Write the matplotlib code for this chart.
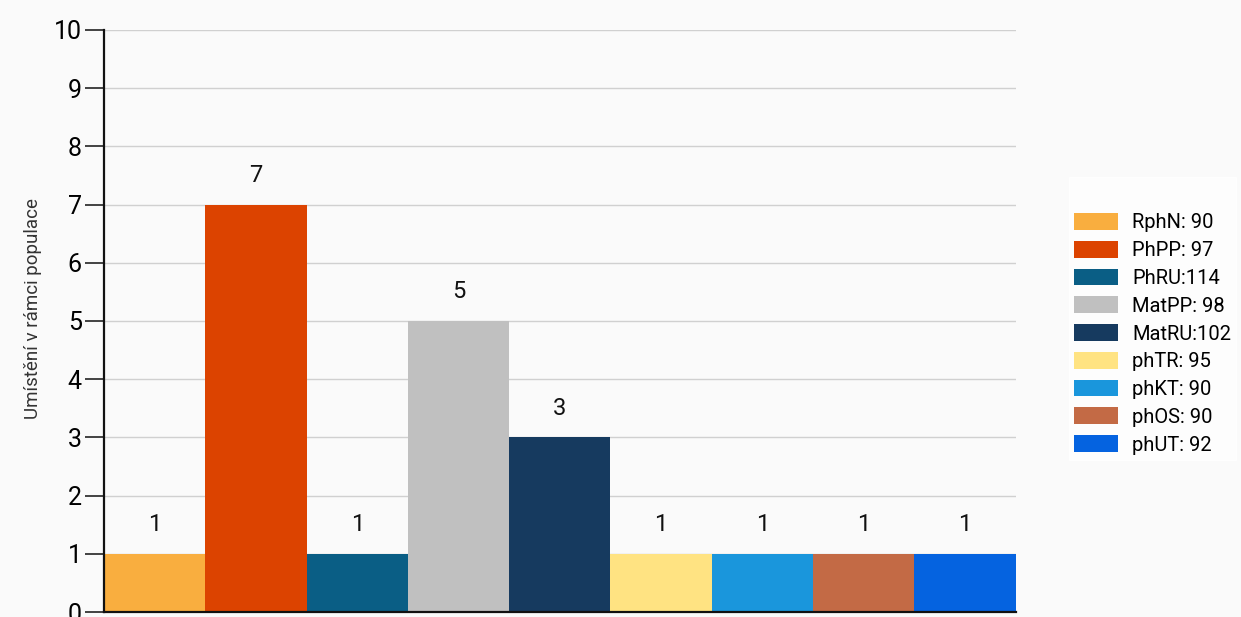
import numpy as np
import matplotlib.pyplot as plt
from matplotlib.patches import Patch

plt.rcParams['font.family'] = ['Roboto', 'DejaVu Sans']

# Data
names = ['RphN', 'PhPP', 'PhRU', 'MatPP', 'MatRU', 'phTR', 'phKT', 'phOS', 'phUT']
scores = ['90', '97', '114', '98', '102', '95', '90', '90', '92']
placement = [1, 7, 1, 5, 3, 1, 1, 1, 1]
colors = ['#F9AE3F', '#DC4300', '#0A5E85', '#C0C0C0', '#163A5F',
          '#FFE382', '#1A96DC', '#C36A45', '#0563E0']

legend_labels = []
for n, s in zip(names, scores):
    sep = ':' if len(s) == 3 else ': '
    legend_labels.append(n + sep + s)

bg = '#fafafa'
fig = plt.figure(figsize=(12.41, 6.17), dpi=100, facecolor=bg)
ax = fig.add_axes([0.0838, 0.0081, 0.7345, 0.9433], facecolor=bg)

x = np.arange(len(names))
ax.bar(x, placement, width=1.0, color=colors, zorder=2)
for xi, v in zip(x, placement):
    ax.text(xi, v + 0.5, str(v), ha='center', va='center', fontsize=17, color='#111111')

ax.set_xlim(-0.5, len(names) - 0.5)
ax.set_ylim(0, 10)
ax.set_yticks(range(0, 11))
ax.tick_params(axis='y', length=14, width=1.2, labelsize=18, pad=2, color='#222222')
ax.tick_params(axis='x', bottom=False, labelbottom=False)
ax.yaxis.grid(True, color='#d0d0d0', lw=1, zorder=0)
for s in ['top', 'right']:
    ax.spines[s].set_visible(False)
for s in ['left', 'bottom']:
    ax.spines[s].set_linewidth(1.6)
    ax.spines[s].set_color('#111111')
ax.set_ylabel('Umístění v rámci populace', fontsize=13.5, color='#333333')
ax.yaxis.set_label_coords(-0.068, 0.522)

handles = [Patch(facecolor=c) for c in colors]
leg = fig.legend(handles, legend_labels, loc='upper left', bbox_to_anchor=(0.853, 0.73),
                 frameon=True, fontsize=14.5, handlelength=2.2, handleheight=0.9,
                 handletextpad=0.7, labelspacing=0.42, borderpad=0.25,
                 title=' ', title_fontsize=17)
leg.get_frame().set_facecolor('white')
leg.get_frame().set_edgecolor('white')
leg.get_frame().set_boxstyle('square', pad=0)

fig.savefig('out.png', dpi=100, facecolor=bg)
